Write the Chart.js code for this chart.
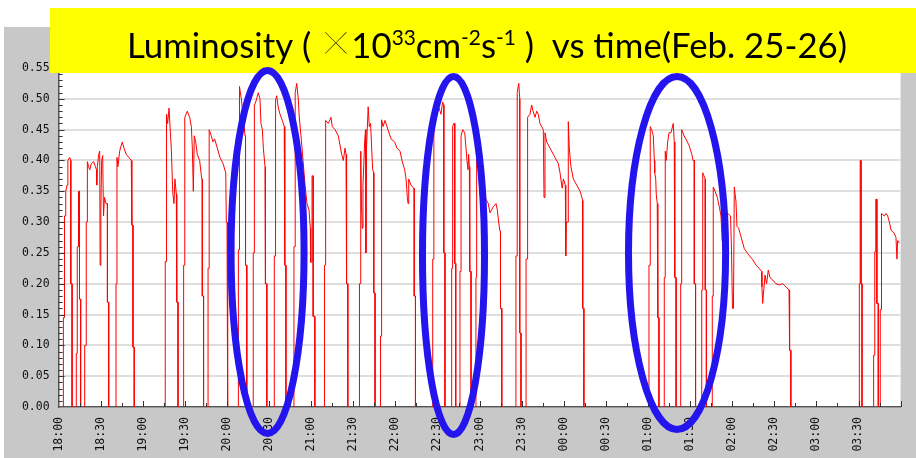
<!DOCTYPE html>
<html>
<head>
<meta charset="utf-8">
<script src="https://cdn.jsdelivr.net/npm/chart.js@4/dist/chart.umd.min.js"></script>
<style>
  html, body { margin: 0; padding: 0; background: #fff; }
  #wrap { width: 916px; height: 458px; position: relative; }
  canvas { display: block; }
</style>
</head>
<body>
<div id="wrap"><canvas id="lumi" width="916" height="458"></canvas></div>
<script>
// Time axis labels, every 30 minutes (Feb 25 18:00 -> Feb 26 03:30)
const timeLabels = ['18:00','18:30','19:00','19:30','20:00','20:30','21:00','21:30','22:00','22:30',
                    '23:00','23:30','00:00','00:30','01:00','01:30','02:00','02:30','03:00','03:30'];

// Sample times in minutes after 18:00. A null separates one beam fill from the next.
const minutes = [
  3.4,3.4,4.2,4.2,5.1,5.1,6.0,6.6,6.6,7.9,8.7,8.7,9.6,9.6, null,
  12.6,12.6,13.3,13.3,14.2,14.2,14.9,14.9,15.7,15.7, null,
  18.6,18.6,19.7,19.7,20.5,20.5,21.4,22.2,23.3,25.0,26.2,27.0,27.2,27.6,28.6,29.3,29.6,30.1,30.7,31.4,32.0,32.7,33.8,34.8,34.8,35.7,35.7, null,
  40.9,40.9,41.6,41.6,42.3,43.5,44.7,45.4,46.6,48.2,50.0,51.8,52.2,52.2,53.0,53.0,53.9,53.9, null,
  76.0,76.0,76.9,76.9,77.7,78.7,79.4,80.3,81.3,82.2,82.9,83.9,84.2,84.2,85.1,85.1, null,
  89.1,89.1,89.9,89.9,91.7,93.4,94.6,95.3,96.0,96.7,97.7,98.8,100.5,102.0,102.4,102.4,103.3,103.3, null,
  106.5,106.5,107.3,107.3,108.8,110.0,111.2,113.1,115.0,117.2,119.1,119.5,120.0,120.0,120.7,120.7, null,
  128.1,128.1,128.9,128.9,130.2,130.9,132.1,132.8,133.2,133.2,134.1,134.1, null,
  138.7,138.7,139.5,139.5,140.5,142.3,143.5,144.2,145.2,145.9,147.1,147.4,147.4,148.4,148.4, null,
  153.7,153.7,154.6,154.6,155.4,156.6,157.8,159.4,160.8,161.2,161.2,162.0,162.0, null,
  167.7,167.7,168.6,168.6,169.7,170.8,171.5,172.7,174.2,175.6,177.0,178.4,179.4,179.6,180.6,180.6,181.4,181.4,182.6,182.6, null,
  189.5,189.5,190.3,190.3,192.2,194.1,195.0,197.0,199.3,200.5,201.7,202.9,204.1,204.8,205.2,205.2,206.1,206.1, null,
  214.4,214.4,215.3,215.3,215.8,216.4,216.9,217.6,218.1,218.7,219.0,219.4,220.6,221.4,222.3,223.1,223.8,224.6,224.6,225.5,225.5, null,
  229.4,229.4,229.9,229.9,230.3,230.3,231.2,232.6,234.7,236.9,239.5,241.1,243.3,244.7,246.6,247.6,248.5,249.0,249.5,251.1,253.0,253.4,253.4,254.3,254.3, null,
  266.6,266.6,267.4,267.4,268.9,270.4,271.8,272.5,273.6,274.5,274.5,275.3,275.3, null,
  280.1,280.1,280.8,280.8,281.6,282.3,282.3,283.0,283.0, null,
  286.0,286.0,286.8,286.8,288.0,289.4,290.3,291.0,291.7,292.2,292.7,293.0,293.0,293.9,293.9, null,
  297.4,297.4,297.9,297.9,299.1,300.3,301.5,303.9,306.2,307.4,309.8,311.7,312.6,313.6,314.5,314.9,314.9,315.8,315.8, null,
  325.9,325.9,326.8,326.8,327.9,328.6,328.6,329.5,329.5, null,
  333.1,333.1,333.8,333.8,334.4,334.4,335.9,337.1,338.1,339.5,340.7,341.8,343.0,345.4,345.9,346.6,347.8,350.2,352.5,353.7,356.1,357.3,358.5,358.9,359.7,361.1,361.4,361.8,363.0,363.2,363.9,365.1,366.8,369.2,371.6,373.5,373.5,374.3,374.3, null,
  420.7,420.7,421.6,421.6,422.6,423.8,424.5,424.8,425.5,425.9,426.6,427.0,427.0,427.8,427.8, null,
  431.6,431.6,432.3,432.3,433.0,434.0,435.0,436.4,438.0,438.7,439.1,439.1,440.0,440.0, null,
  443.3,443.3,444.0,444.0,445.7,446.9,449.2,451.2,452.1,453.0,453.0,453.9,453.9, null,
  458.3,458.3,459.0,459.0,459.9,460.8,460.8,461.6,461.6, null,
  465.8,465.8,466.5,466.5,467.8,469.4,470.8,472.0,472.9,473.7,476.3,478.8,479.5,480.2,480.9,481.5,482.7,483.4,484.6,486.3,488.6,491.0,494.6,497.0,499.3,500.9,501.2,501.7,502.5,503.4,504.5,505.7,506.9,508.9,511.2,513.6,516.0,518.3,520.5,520.9,520.9,521.8,521.8, null,
  570.6,570.6,571.2,571.2,571.8,571.8,572.5,572.5, null,
  580.8,580.8,581.6,581.6,582.3,582.3,583.1,583.1,584.1,584.1, null,
  585.5,585.5,586.4,586.4,588.4,589.6,590.8,592.0,593.2,594.4,595.5,596.7,597.4,597.9,599.1
];

// Luminosity in units of 1e33 cm^-2 s^-1, one value per entry of `minutes`
const luminosity = [
  0,0.145,0.145,0.31,0.31,0.35,0.36,0.36,0.40,0.405,0.40,0.20,0.20,0, null,
  0,0.087,0.087,0.26,0.26,0.35,0.35,0.175,0.175,0, null,
  0,0.10,0.10,0.30,0.30,0.398,0.39,0.385,0.395,0.398,0.39,0.385,0.36,0.39,0.41,0.415,0.23,0.32,0.40,0.408,0.31,0.34,0.33,0.33,0.17,0.17,0, null,
  0,0.20,0.20,0.405,0.39,0.415,0.425,0.43,0.42,0.41,0.405,0.40,0.40,0.295,0.295,0.097,0.097,0, null,
  0,0.236,0.236,0.475,0.46,0.485,0.455,0.42,0.35,0.33,0.37,0.345,0.345,0.17,0.17,0, null,
  0,0.23,0.23,0.47,0.48,0.47,0.455,0.42,0.35,0.44,0.43,0.41,0.40,0.37,0.37,0.18,0.18,0, null,
  0,0.225,0.225,0.45,0.44,0.43,0.435,0.42,0.405,0.395,0.38,0.30,0.30,0.10,0.10,0, null,
  0,0.255,0.255,0.52,0.50,0.485,0.46,0.44,0.44,0.23,0.23,0, null,
  0,0.25,0.25,0.49,0.495,0.51,0.50,0.46,0.45,0.42,0.39,0.39,0.20,0.20,0, null,
  0,0.245,0.245,0.498,0.505,0.485,0.475,0.465,0.455,0.455,0.23,0.23,0, null,
  0,0.26,0.26,0.51,0.525,0.50,0.47,0.44,0.40,0.36,0.33,0.32,0.29,0.235,0.235,0.375,0.375,0.147,0.147,0, null,
  0,0.23,0.23,0.465,0.46,0.47,0.455,0.45,0.44,0.425,0.41,0.40,0.42,0.41,0.41,0.20,0.20,0, null,
  0,0.20,0.20,0.415,0.33,0.29,0.36,0.40,0.43,0.45,0.25,0.42,0.487,0.455,0.46,0.42,0.385,0.38,0.185,0.185,0, null,
  0,0.115,0.115,0.35,0.35,0.466,0.455,0.465,0.45,0.435,0.43,0.42,0.415,0.40,0.385,0.37,0.34,0.33,0.37,0.36,0.355,0.355,0.18,0.18,0, null,
  0,0.24,0.24,0.45,0.47,0.49,0.48,0.475,0.495,0.49,0.25,0.25,0, null,
  0,0.225,0.225,0.455,0.46,0.46,0.233,0.233,0, null,
  0,0.22,0.22,0.44,0.45,0.445,0.42,0.40,0.385,0.41,0.39,0.39,0.22,0.22,0, null,
  0,0.21,0.21,0.415,0.40,0.345,0.355,0.34,0.33,0.315,0.325,0.33,0.32,0.30,0.285,0.285,0.16,0.16,0, null,
  0,0.245,0.245,0.51,0.525,0.50,0.12,0.12,0, null,
  0,0.24,0.24,0.38,0.38,0.47,0.475,0.49,0.48,0.47,0.48,0.475,0.46,0.45,0.34,0.445,0.43,0.42,0.41,0.405,0.395,0.38,0.36,0.355,0.37,0.36,0.245,0.30,0.30,0.463,0.42,0.39,0.37,0.36,0.35,0.335,0.16,0.16,0, null,
  0,0.23,0.23,0.455,0.45,0.44,0.40,0.38,0.37,0.345,0.33,0.33,0.145,0.145,0, null,
  0,0.21,0.21,0.415,0.40,0.43,0.445,0.445,0.46,0.43,0.43,0.21,0.21,0, null,
  0,0.20,0.20,0.45,0.44,0.435,0.425,0.41,0.40,0.40,0.20,0.20,0, null,
  0,0.19,0.19,0.38,0.375,0.37,0.19,0.19,0, null,
  0,0.18,0.18,0.357,0.35,0.34,0.325,0.31,0.27,0.31,0.315,0.31,0.255,0.16,0.16,0.357,0.333,0.293,0.29,0.276,0.257,0.249,0.239,0.23,0.225,0.22,0.195,0.168,0.19,0.214,0.20,0.222,0.21,0.206,0.20,0.198,0.20,0.195,0.19,0.19,0.092,0.092,0, null,
  0,0.20,0.20,0.40,0.40,0.20,0.20,0, null,
  0,0.084,0.084,0.252,0.252,0.337,0.337,0.168,0.168,0, null,
  0,0.158,0.158,0.314,0.31,0.314,0.31,0.30,0.287,0.284,0.282,0.275,0.24,0.27,0.266
];

// Highlighted periods (ellipses): centre time [min after 18:00], centre luminosity,
// half-width [min] and half-height [luminosity units]
const highlightCentreMin  = [148.9, 281.4, 440.7];
const highlightCentreLumi = [0.2515, 0.2458, 0.2498];
const highlightHalfMin    = [26.0, 22.1, 34.6];
const highlightHalfLumi   = [0.2945, 0.2904, 0.2863];

const clockToMinutes = s => {
  const h = +s.slice(0, 2), m = +s.slice(3, 5);
  return ((h - 18 + 24) % 24) * 60 + m;
};

const points = [];
let lastT = 0;
minutes.forEach((t, i) => {
  if (t !== null) lastT = t;
  points.push({ x: lastT, y: luminosity[i] });
});

// Gray frame and white plot area
const backdrop = {
  id: 'backdrop',
  beforeDraw(chart) {
    const { ctx, chartArea: a } = chart;
    ctx.save();
    ctx.fillStyle = '#ffffff';
    ctx.fillRect(0, 0, chart.width, chart.height);
    ctx.fillStyle = '#c8c8c8';
    ctx.fillRect(4, 27, chart.width - 4, chart.height - 27);
    ctx.fillStyle = '#ffffff';
    ctx.fillRect(a.left, a.top, a.right - a.left, a.bottom - a.top);
    ctx.restore();
  }
};

// Short tick marks pointing into the plot area
const innerTicks = {
  id: 'innerTicks',
  afterDatasetsDraw(chart) {
    const { ctx, chartArea: a, scales: { x, y } } = chart;
    ctx.save();
    ctx.strokeStyle = '#333';
    ctx.lineWidth = 1;
    ctx.beginPath();
    for (let m = 15; m <= x.max; m += 15) {
      const px = Math.round(x.getPixelForValue(m)) + 0.5;
      const len = m % 30 === 0 ? 6 : 4;
      ctx.moveTo(px, a.bottom);
      ctx.lineTo(px, a.bottom - len);
    }
    for (let k = 1; k <= Math.round(y.max * 100); k++) {
      const py = Math.round(y.getPixelForValue(k / 100)) + 0.5;
      const len = k % 5 === 0 ? 6 : 4;
      ctx.moveTo(a.left, py);
      ctx.lineTo(a.left + len, py);
    }
    ctx.stroke();
    ctx.restore();
  }
};

// Title banner and highlight ellipses drawn on top of everything
const overlay = {
  id: 'overlay',
  afterDraw(chart) {
    const { ctx, scales: { x, y } } = chart;
    ctx.save();
    ctx.fillStyle = '#ffff00';
    ctx.fillRect(50, 8, chart.width - 50, 65);

    const base = '35px Lato, "Open Sans", sans-serif';
    const sup = '21px Lato, "Open Sans", sans-serif';
    const cross = '200 54px Lato, "Open Sans", sans-serif';
    const segs = [
      { t: 'Luminosity ( ', f: base, dy: 0 },
      { t: '\u00D7', f: cross, dy: 3 },
      { t: '10', f: base, dy: 0 },
      { t: '33', f: sup, dy: -13 },
      { t: 'cm', f: base, dy: 0 },
      { t: '-2', f: sup, dy: -13 },
      { t: 's', f: base, dy: 0 },
      { t: '-1', f: sup, dy: -13 },
      { t: ' )  vs time(Feb. 25-26)', f: base, dy: 0 }
    ];
    let total = 0;
    segs.forEach(s => { ctx.font = s.f; s.w = ctx.measureText(s.t).width; total += s.w; });
    const x0 = 127, width = 720, baseline = 58;
    ctx.translate(x0, baseline);
    ctx.scale(width / total, 1);
    ctx.fillStyle = '#000';
    ctx.textBaseline = 'alphabetic';
    let cx = 0;
    segs.forEach(s => { ctx.font = s.f; ctx.fillText(s.t, cx, s.dy); cx += s.w; });
    ctx.restore();

    ctx.save();
    ctx.strokeStyle = 'rgb(36, 20, 238)';
    ctx.lineWidth = 7;
    highlightCentreMin.forEach((c, i) => {
      const px = x.getPixelForValue(c);
      const rx = x.getPixelForValue(c + highlightHalfMin[i]) - px;
      const py = y.getPixelForValue(highlightCentreLumi[i]);
      const ry = py - y.getPixelForValue(highlightCentreLumi[i] + highlightHalfLumi[i]);
      ctx.beginPath();
      ctx.ellipse(px, py, rx, ry, 0, 0, Math.PI * 2);
      ctx.stroke();
    });
    ctx.restore();
  }
};

new Chart(document.getElementById('lumi'), {
  type: 'line',
  data: {
    datasets: [{
      data: points,
      borderColor: '#ff0000',
      borderWidth: 1,
      pointRadius: 0,
      tension: 0,
      spanGaps: false,
      fill: false
    }]
  },
  options: {
    responsive: false,
    animation: false,
    devicePixelRatio: 1,
    layout: { padding: { top: 68, right: 15.4, left: 0, bottom: 0 } },
    plugins: { legend: { display: false }, tooltip: { enabled: false } },
    scales: {
      x: {
        type: 'linear',
        min: 0,
        max: 600,
        afterBuildTicks: s => { s.ticks = timeLabels.map(l => ({ value: clockToMinutes(l) })); },
        afterFit: s => { s.height = 51; },
        grid: { display: false, drawTicks: false },
        border: { display: true, color: '#555', width: 1.5 },
        ticks: {
          autoSkip: false,
          minRotation: 90,
          maxRotation: 90,
          padding: 10,
          color: '#111',
          font: { family: '"DejaVu Sans Mono", monospace', size: 11.5 },
          callback: (v, i) => timeLabels[i]
        }
      },
      y: {
        min: 0,
        max: 0.55,
        afterFit: s => { s.width = 58.6; },
        grid: { color: '#dedede', lineWidth: 2, drawTicks: false },
        border: { display: true, color: '#555', width: 1.5 },
        ticks: {
          stepSize: 0.05,
          padding: 9,
          color: '#111',
          font: { family: '"DejaVu Sans Mono", monospace', size: 11.5 },
          callback: v => v.toFixed(2)
        }
      }
    }
  },
  plugins: [backdrop, innerTicks, overlay]
});
</script>
</body>
</html>
